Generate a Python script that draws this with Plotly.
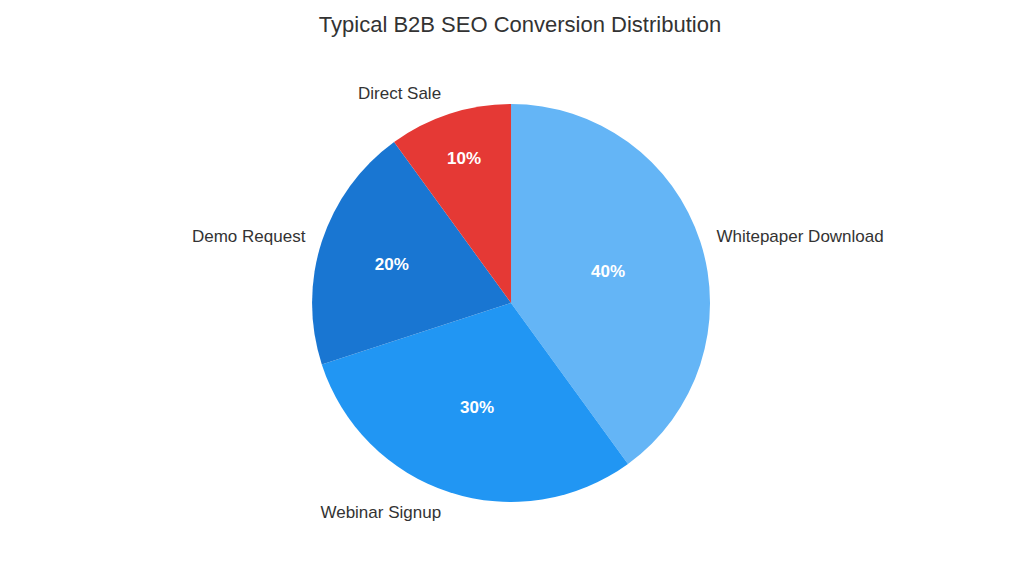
import plotly.graph_objects as go

labels = ["Whitepaper Download", "Webinar Signup", "Demo Request", "Direct Sale"]
values = [40, 30, 20, 10]
colors = ["#64B5F6", "#2196F3", "#1976D2", "#E53935"]

font_family = "Liberation Sans, Arial, sans-serif"

# percentages inside the slices
inner = go.Pie(
    labels=labels, values=values, sort=False, direction="clockwise",
    domain=dict(x=[0.28, 1], y=[0.1319, 0.8313]),
    marker=dict(colors=colors, line=dict(width=0)),
    textinfo="percent", textposition="inside", insidetextorientation="horizontal",
    textfont=dict(family=font_family, size=17, color="white", weight="bold"),
    hoverinfo="label+percent", showlegend=False,
)
# category names outside, on a slightly larger transparent copy
outer = go.Pie(
    labels=labels, values=values, sort=False, direction="clockwise",
    domain=dict(x=[0.28, 1], y=[0.1108, 0.8524]),
    marker=dict(colors=["rgba(0,0,0,0)"] * len(values), line=dict(width=0)),
    textinfo="label", textposition="outside",
    outsidetextfont=dict(family=font_family, size=17, color="#333333"),
    hoverinfo="skip", showlegend=False,
)

fig = go.Figure(data=[outer, inner])
fig.update_layout(
    title=dict(text="Typical B2B SEO Conversion Distribution", x=0.5, y=0.972,
               xanchor="center", yanchor="middle",
               font=dict(family=font_family, size=22, color="#333333")),
    width=1024, height=569,
    showlegend=False,
    margin=dict(l=0, r=0, t=0, b=0),
    paper_bgcolor="white", plot_bgcolor="white",
    font=dict(family=font_family),
)
fig.write_html("out.html")
